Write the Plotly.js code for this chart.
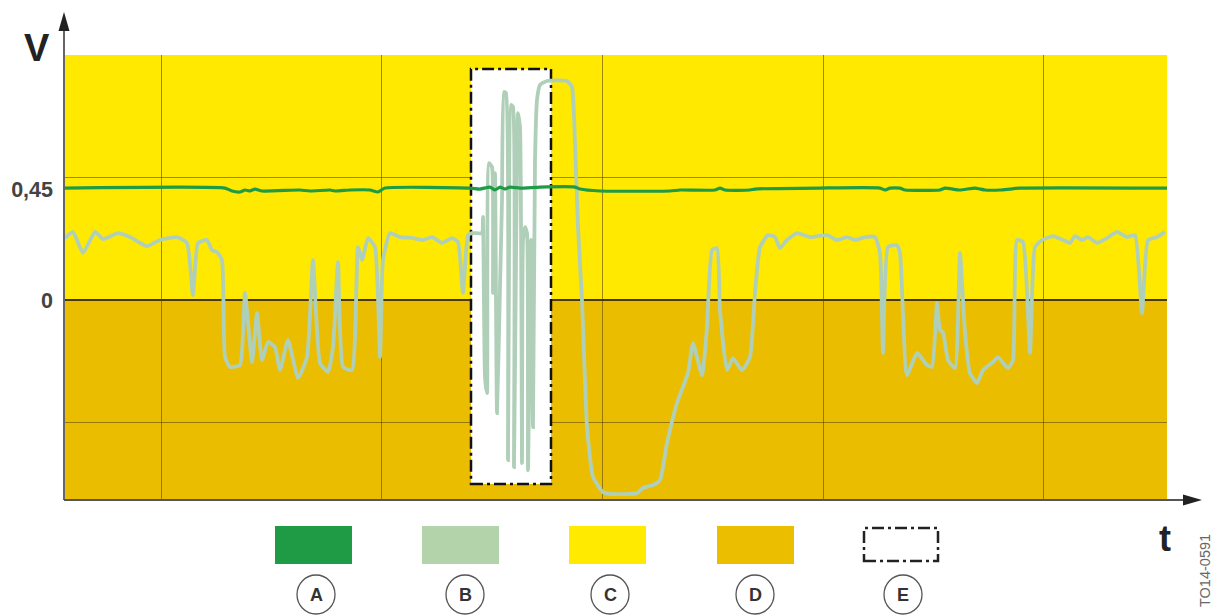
<!DOCTYPE html>
<html>
<head>
<meta charset="utf-8">
<script src="https://cdn.plot.ly/plotly-3.0.1.min.js"></script>
<style>html,body{margin:0;padding:0;background:#fff;}#chart{width:1218px;height:616px;}</style>
</head>
<body>
<div id="chart"></div>
<script>
// ---- data (time in ms-like units, voltage in V) ----
var timeGrid = [97, 317, 538, 759, 979];
var voltGrid = [-0.5, 0.5];
var voltTicks = [0, 0.45];
var voltTickText = ['0', '0,45'];

var tA = [0,161,168,176,181,186,191,198,236,246,266,271,286,306,314,321,406,416,426,431,436,441,446,456,476,511,516,536,606,616,651,656,661,686,691,756,816,821,826,836,841,876,881,896,911,921,936,946,956,1103];
var vA = [0.457,0.457,0.445,0.441,0.449,0.445,0.453,0.445,0.449,0.445,0.449,0.445,0.449,0.449,0.441,0.457,0.457,0.453,0.461,0.449,0.461,0.453,0.461,0.457,0.461,0.461,0.453,0.445,0.445,0.449,0.449,0.457,0.449,0.449,0.453,0.457,0.457,0.449,0.457,0.457,0.449,0.449,0.457,0.449,0.457,0.449,0.449,0.453,0.457,0.457];

var tB = [1,9,19,31,39,54,66,83,96,113,123,129,134,143,148,153,158,161,166,176,181,188,193,198,204,211,216,224,234,243,249,256,264,269,274,279,288,294,298,304,311,316,319,326,336,349,359,368,378,388,394,399,404,408,411,418,419,421,423,425,428,429,431,433,436,438,440,442,444,445,447,449,450,452,454,456,458,459,461,463,464,467,469,471,473,476,483,503,508,511,514,518,523,529,539,549,573,579,589,596,603,613,624,629,638,643,648,653,656,663,669,678,686,691,696,704,711,716,723,733,746,763,773,783,791,801,811,816,819,824,833,836,843,853,863,868,873,876,879,884,891,896,901,906,913,919,929,934,944,949,953,959,966,971,978,989,999,1006,1011,1018,1024,1033,1043,1053,1063,1071,1078,1084,1093,1101];
var vB = [0.253,0.278,0.192,0.278,0.249,0.273,0.257,0.220,0.245,0.257,0.233,0.020,0.233,0.245,0.204,0.196,0.163,-0.233,-0.273,-0.265,0.029,-0.253,-0.053,-0.245,-0.171,-0.192,-0.286,-0.163,-0.318,-0.233,0.163,-0.257,-0.294,-0.192,0.155,-0.273,-0.286,0.216,0.163,0.253,0.216,-0.233,0.163,0.273,0.257,0.253,0.245,0.257,0.233,0.253,0.237,0.029,0.265,0.273,0.273,0.273,0.339,-0.314,-0.380,0.559,0.543,0.029,0.518,-0.461,0.053,0.408,0.849,0.845,-0.653,0.163,0.796,0.788,-0.682,0.163,0.763,0.706,-0.665,0.245,0.298,0.273,-0.694,0.245,-0.518,0.571,0.816,0.878,0.894,0.894,0.869,0.641,0.298,0.000,-0.518,-0.722,-0.784,-0.792,-0.788,-0.767,-0.755,-0.735,-0.584,-0.420,-0.298,-0.176,-0.306,-0.110,0.204,0.212,-0.041,-0.286,-0.237,-0.286,-0.233,0.029,0.216,0.265,0.257,0.212,0.245,0.273,0.257,0.265,0.245,0.257,0.245,0.257,0.257,0.192,-0.216,0.216,0.224,0.192,-0.306,-0.216,-0.265,-0.273,-0.012,-0.122,-0.131,-0.245,-0.278,0.192,-0.135,-0.298,-0.339,-0.286,-0.253,-0.233,-0.278,-0.245,0.245,0.237,-0.216,0.216,0.245,0.261,0.245,0.233,0.261,0.245,0.257,0.233,0.253,0.278,0.257,0.265,-0.053,0.245,0.257,0.278];

// bands C (upper) and D (lower)
var bandFrom = [0, -0.816];
var bandTo = [1.0, 0];
// window E
var boxT = [407, 487];
var boxV = [-0.751, 0.943];

var legendKeys = ['A', 'B', 'C', 'D', 'E'];
var xRange = [0, 1103];
var yRange = [-0.816, 1.0];

// ---- styles / layout ----
var colA = '#1f9a45', colB = '#b0cfb8', colC = '#ffe900', colD = '#ebbd00';
var bandColors = [colC, colD];
var legendFill = [colA, '#b3d3ab', '#ffea00', '#ebbf00', null];
var dashDot = '12px,4px,3px,4px';

var L = 64, T = 55, W = 1103, H = 445;
function px(x) { return (x - L) / W; }
function py(y) { return (T + H - y) / H; }

var shapes = [];
for (var i = 0; i < bandFrom.length; i++) {
  shapes.push({type: 'rect', xref: 'paper', yref: 'y', x0: 0, x1: 1, y0: bandFrom[i], y1: bandTo[i],
    fillcolor: bandColors[i], line: {width: 0}, layer: 'below'});
}
shapes.push({type: 'rect', xref: 'x', yref: 'y', x0: boxT[0], x1: boxT[1], y0: boxV[0], y1: boxV[1],
  fillcolor: '#ffffff', line: {color: '#111', width: 2.5, dash: dashDot}, layer: 'between'});

// axes with arrows
shapes.push({type: 'line', xref: 'paper', yref: 'paper', x0: 0, x1: 0, y0: 0, y1: py(28),
  line: {color: '#666', width: 2}, layer: 'above'});
shapes.push({type: 'path', xref: 'paper', yref: 'paper',
  path: 'M' + px(64) + ',' + py(12) + ' L' + px(58.5) + ',' + py(31) + ' L' + px(69.5) + ',' + py(31) + ' Z',
  fillcolor: '#222', line: {width: 0}, layer: 'above'});
shapes.push({type: 'line', xref: 'paper', yref: 'paper', x0: 0, x1: px(1186), y0: 0, y1: 0,
  line: {color: '#555', width: 2}, layer: 'above'});
shapes.push({type: 'path', xref: 'paper', yref: 'paper',
  path: 'M' + px(1202) + ',' + py(500) + ' L' + px(1183) + ',' + py(494.5) + ' L' + px(1183) + ',' + py(505.5) + ' Z',
  fillcolor: '#222', line: {width: 0}, layer: 'above'});

// legend swatches
var legX = [275, 422, 569, 717, 863];
var legCx = [316, 465, 610, 755, 903];
var annotations = [];
for (var k = 0; k < legendKeys.length; k++) {
  if (legendFill[k]) {
    shapes.push({type: 'rect', xref: 'paper', yref: 'paper', x0: px(legX[k]), x1: px(legX[k] + 77),
      y0: py(564), y1: py(526), fillcolor: legendFill[k], line: {width: 0}});
  } else {
    shapes.push({type: 'rect', xref: 'paper', yref: 'paper', x0: px(legX[k] + 1), x1: px(legX[k] + 75),
      y0: py(561), y1: py(528), fillcolor: 'rgba(0,0,0,0)', line: {color: '#222', width: 2.5, dash: dashDot}});
  }
  shapes.push({type: 'circle', xref: 'paper', yref: 'paper', x0: px(legCx[k] - 19), x1: px(legCx[k] + 19),
    y0: py(614), y1: py(575), line: {color: '#555', width: 1.3}, fillcolor: 'rgba(0,0,0,0)'});
  annotations.push({xref: 'paper', yref: 'paper', x: px(legCx[k]), y: py(595), text: legendKeys[k],
    showarrow: false, xanchor: 'center', yanchor: 'middle',
    font: {family: 'Liberation Sans, Arial, sans-serif', size: 18, color: '#333', weight: 'bold'}});
}

annotations.push({xref: 'paper', yref: 'paper', x: px(37), y: py(48), text: 'V', showarrow: false,
  xanchor: 'center', yanchor: 'middle', font: {family: 'Liberation Sans, Arial, sans-serif', size: 38, color: '#222', weight: 'bold'}});
annotations.push({xref: 'paper', yref: 'paper', x: px(1165), y: py(538), text: 't', showarrow: false,
  xanchor: 'center', yanchor: 'middle', font: {family: 'Liberation Sans, Arial, sans-serif', size: 36, color: '#222', weight: 'bold'}});
annotations.push({xref: 'paper', yref: 'paper', x: px(1205), y: py(571), text: 'TO14-0591', showarrow: false,
  textangle: -90, xanchor: 'center', yanchor: 'middle', font: {family: 'Liberation Sans, Arial, sans-serif', size: 14.5, color: '#666'}});

var traces = [
  {x: tB, y: vB, type: 'scatter', mode: 'lines', name: 'B', line: {color: colB, width: 3.8, shape: 'spline', smoothing: 0.45}, hoverinfo: 'skip'},
  {x: tA, y: vA, type: 'scatter', mode: 'lines', name: 'A', line: {color: colA, width: 3.2, shape: 'spline', smoothing: 0.5}, hoverinfo: 'skip'}
];

var layout = {
  width: 1218, height: 616,
  margin: {l: L, r: 1218 - L - W, t: T, b: 616 - T - H, pad: 0},
  paper_bgcolor: '#ffffff', plot_bgcolor: colD,
  showlegend: false,
  xaxis: {range: xRange, tickmode: 'array', tickvals: timeGrid, showticklabels: false, ticks: '',
    showgrid: true, gridcolor: 'rgba(95,72,0,0.6)', gridwidth: 1, zeroline: false, showline: false, fixedrange: true},
  yaxis: {range: yRange, tickmode: 'array', tickvals: voltTicks, ticktext: voltTickText, ticks: '',
    ticklabelstandoff: 10,
    tickfont: {family: 'Liberation Sans, Arial, sans-serif', size: 21.5, color: '#444', weight: 'bold'},
    showgrid: false, zeroline: true, zerolinecolor: '#4a3600', zerolinewidth: 2, showline: false, fixedrange: true,
    minor: {tickmode: 'array', tickvals: voltGrid, showgrid: true, gridcolor: 'rgba(95,72,0,0.6)', gridwidth: 1, ticks: ''}},
  shapes: shapes,
  annotations: annotations
};

Plotly.newPlot('chart', traces, layout, {staticPlot: true, displayModeBar: false});
</script>
</body>
</html>
